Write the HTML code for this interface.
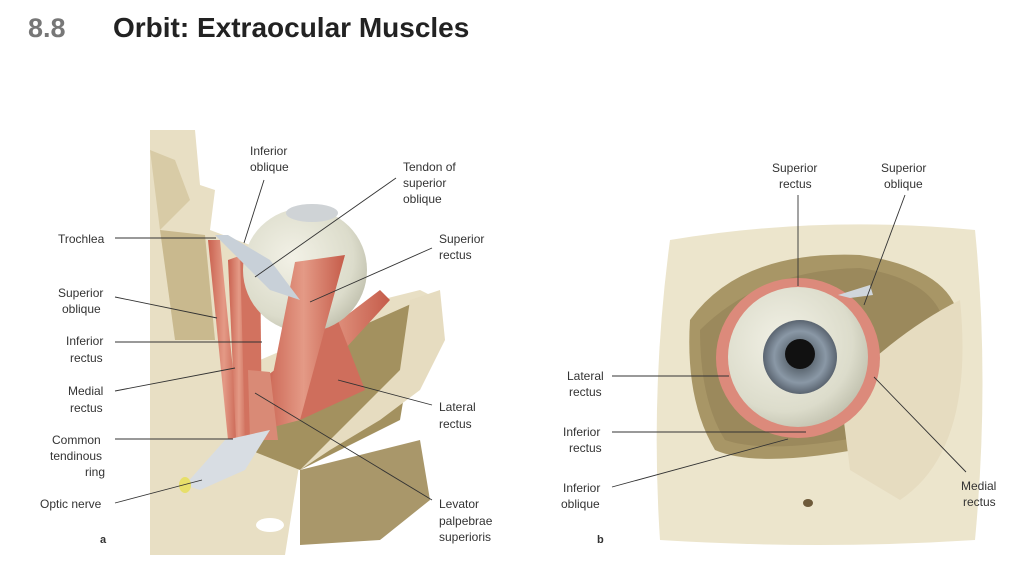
<!DOCTYPE html>
<html><head><meta charset="utf-8"><style>
html,body{margin:0;padding:0;background:#fff;}
svg{display:block;font-family:"Liberation Sans",sans-serif;}
.l{font-size:12px;fill:#333;}
.ln{stroke:#333;stroke-width:0.9;fill:none;}
</style></head><body>
<svg width="1024" height="565" viewBox="0 0 1024 565">
<defs>
<radialGradient id="eye" cx="0.4" cy="0.4" r="0.7"><stop offset="0" stop-color="#f2f1e6"/><stop offset="0.7" stop-color="#dcdccb"/><stop offset="1" stop-color="#b9b9a6"/></radialGradient>
<radialGradient id="iris" cx="0.5" cy="0.5" r="0.5"><stop offset="0.3" stop-color="#5b6670"/><stop offset="0.7" stop-color="#8a98a6"/><stop offset="1" stop-color="#5a6470"/></radialGradient>
<linearGradient id="mus" x1="0" y1="0" x2="1" y2="0"><stop offset="0" stop-color="#c9614f"/><stop offset="0.5" stop-color="#e49a86"/><stop offset="1" stop-color="#c55c4a"/></linearGradient>
</defs>
<text x="28" y="37" font-size="27" fill="#777" font-weight="bold">8.8</text>
<text x="113" y="37" font-size="28" fill="#222" font-weight="bold">Orbit: Extraocular Muscles</text>

<!-- Panel a bone -->
<path d="M150 130 L195 130 L200 185 L215 190 L210 230 L250 245 L260 360 L330 330 L380 300 L420 290 L440 300 L435 340 L395 400 L360 420 L300 460 L285 555 L150 555 Z" fill="#e8dfc4"/>
<path d="M150 150 L175 160 L190 200 L160 230 Z" fill="#d8cba6"/>
<path d="M160 230 L205 235 L215 340 L175 340 Z" fill="#c9b98e"/>
<path d="M300 470 L420 440 L430 500 L380 540 L300 545 Z" fill="#a9976a"/>
<path d="M330 340 L420 300 L400 420 L300 470 L250 450 Z" fill="#a3915f"/>
<path d="M410 300 L440 290 L445 340 L420 390 L380 420 L330 450 L300 470 L350 420 L400 370 Z" fill="#e6dcc0"/>
<ellipse cx="270" cy="525" rx="14" ry="7" fill="#fff"/>
<!-- muscles -->
<path d="M208 240 L220 240 L240 440 L228 440 Z" fill="url(#mus)"/>
<path d="M228 260 L242 255 L250 440 L236 440 Z" fill="url(#mus)"/>
<path d="M240 250 L260 250 L262 440 L245 440 Z" fill="#d2725f"/>
<path d="M268 375 L380 290 L390 300 L275 425 L260 430 Z" fill="url(#mus)"/>
<path d="M330 300 L365 390 L300 420 L255 430 Z" fill="#cf6e5c"/>
<circle cx="305" cy="270" r="62" fill="url(#eye)"/>
<ellipse cx="312" cy="213" rx="26" ry="9" fill="#cfd3d6"/>
<path d="M295 262 L345 255 L300 420 L262 430 Z" fill="url(#mus)"/>
<path d="M248 370 L270 372 L278 440 L250 440 Z" fill="#d98a76"/>
<path d="M215 235 L228 235 L270 260 L300 300 L270 290 L240 260 Z" fill="#c8d0d8"/>
<path d="M225 440 L270 430 L245 470 L200 490 L185 485 Z" fill="#d8dde3"/>
<ellipse cx="185" cy="485" rx="6" ry="8" fill="#e7df6a"/>

<!-- Panel b -->
<path d="M670 240 Q820 215 975 230 Q990 380 975 540 Q820 550 660 540 Q650 390 670 240 Z" fill="#ece5cc"/>
<path d="M690 320 Q740 250 860 255 Q960 270 960 330 Q955 420 880 445 Q760 470 715 450 Q685 400 690 320 Z" fill="#a89666"/>
<path d="M700 330 Q760 270 860 268 Q940 280 945 330 Q940 410 870 435 Q770 455 725 440 Q700 400 700 330 Z" fill="#8d7c52" opacity="0.5"/>
<path d="M840 390 Q900 330 960 300 Q975 450 900 500 L850 470 Z" fill="#e6dcc0"/>
<ellipse cx="798" cy="358" rx="82" ry="80" fill="#dc8a7b"/>
<circle cx="798" cy="357" r="70" fill="url(#eye)"/>
<circle cx="800" cy="357" r="37" fill="url(#iris)"/>
<circle cx="800" cy="354" r="15" fill="#111"/>
<path d="M838 295 L870 285 L873 295 L850 298 Z" fill="#d0d6dc"/>
<ellipse cx="808" cy="503" rx="5" ry="4" fill="#6e5a3a"/>

<g class="l">
<text x="250" y="155">Inferior</text><text x="250" y="171">oblique</text>
<text x="403" y="171">Tendon of</text><text x="403" y="187">superior</text><text x="403" y="203">oblique</text>
<text x="439" y="243">Superior</text><text x="439" y="259">rectus</text>
<text x="58" y="243">Trochlea</text>
<text x="58" y="297">Superior</text><text x="62" y="313">oblique</text>
<text x="66" y="345">Inferior</text><text x="70" y="362">rectus</text>
<text x="68" y="395">Medial</text><text x="70" y="412">rectus</text>
<text x="52" y="444">Common</text><text x="50" y="460">tendinous</text><text x="85" y="476">ring</text>
<text x="40" y="508">Optic nerve</text>
<text x="439" y="411">Lateral</text><text x="439" y="428">rectus</text>
<text x="439" y="508">Levator</text><text x="439" y="525">palpebrae</text><text x="439" y="541">superioris</text>
<text x="100" y="543" font-weight="bold" font-size="11">a</text>
<text x="772" y="172">Superior</text><text x="779" y="188">rectus</text>
<text x="881" y="172">Superior</text><text x="884" y="188">oblique</text>
<text x="567" y="380">Lateral</text><text x="569" y="396">rectus</text>
<text x="563" y="436">Inferior</text><text x="569" y="452">rectus</text>
<text x="563" y="492">Inferior</text><text x="561" y="508">oblique</text>
<text x="961" y="490">Medial</text><text x="963" y="506">rectus</text>
<text x="597" y="543" font-weight="bold" font-size="11">b</text>
</g>
<g class="ln">
<line x1="264" y1="180" x2="244" y2="243"/>
<line x1="396" y1="178" x2="255" y2="277"/>
<line x1="432" y1="248" x2="310" y2="302"/>
<line x1="115" y1="238" x2="216" y2="238"/>
<line x1="115" y1="297" x2="217" y2="318"/>
<line x1="115" y1="342" x2="262" y2="342"/>
<line x1="115" y1="391" x2="235" y2="368"/>
<line x1="115" y1="439" x2="233" y2="439"/>
<line x1="115" y1="503" x2="202" y2="480"/>
<line x1="432" y1="405" x2="338" y2="380"/>
<line x1="432" y1="500" x2="255" y2="393"/>
<line x1="798" y1="195" x2="798" y2="286"/>
<line x1="905" y1="195" x2="864" y2="305"/>
<line x1="612" y1="376" x2="729" y2="376"/>
<line x1="612" y1="432" x2="806" y2="432"/>
<line x1="612" y1="487" x2="788" y2="439"/>
<line x1="966" y1="472" x2="874" y2="377"/>
</g>
</svg>
</body></html>
